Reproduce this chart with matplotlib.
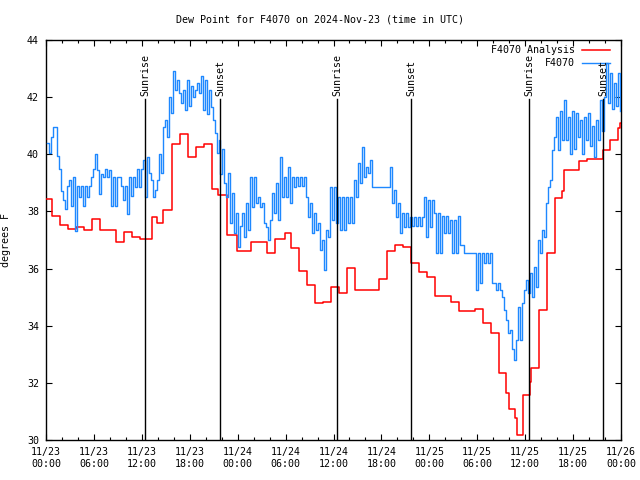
"""
Dew point for F4070, analysis vs. observations, 2024-Nov-23..26 (UTC).
"""

import numpy as np
import matplotlib
matplotlib.use('Agg')
import matplotlib.pyplot as plt

FONT = 'DejaVu Sans Mono'
FS = 7.2
ANALYSIS_COLOR = '#ff0000'
OBS_COLOR = '#1e88ff'

# analysis: step start (hours since 11/23 00:00 UTC) and dew point (F)
analysis_hours = [0, 0.75, 1.75, 2.75, 3.75, 4.75, 5.75, 6.75, 8.75, 9.75,
                  10.75, 11.75, 13.25, 13.9, 14.65, 15.75, 16.75, 17.75, 18.75, 19.75,
                  20.75, 21.55, 22.65, 23.9, 25.65, 27.65, 28.7, 29.9, 30.7, 31.7,
                  32.7, 33.7, 34.7, 35.7, 36.7, 37.7, 38.7, 41.7, 42.7, 43.7,
                  44.7, 45.7, 46.7, 47.7, 48.7, 50.7, 51.7, 53.7, 54.7, 55.7,
                  56.7, 57.6, 58.0, 58.7, 59.0, 59.7, 60.6, 60.7, 61.7, 62.7,
                  63.7, 64.6, 64.85, 66.7, 67.7, 69.75, 70.6, 71.6, 71.85, 72]
analysis_dewpt = [38.42, 37.84, 37.51, 37.37, 37.44, 37.35, 37.72, 37.35, 36.93, 37.28,
                  37.12, 37.02, 37.82, 37.58, 38.05, 40.36, 40.71, 39.89, 40.24, 40.36,
                  38.8, 38.56, 37.16, 36.6, 36.93, 36.53, 37.05, 37.26, 36.72, 35.93,
                  35.44, 34.78, 34.82, 35.37, 35.16, 36.02, 35.25, 35.65, 36.63, 36.81,
                  36.75, 36.2, 35.88, 35.7, 35.03, 34.83, 34.5, 34.57, 34.08, 33.73,
                  32.36, 31.64, 31.1, 30.77, 30.16, 31.57, 32.03, 32.52, 34.55, 36.53,
                  38.47, 38.7, 39.45, 39.75, 39.85, 40.15, 40.5, 40.92, 41.08, 41.08]

# station obs, read every quarter hour, one row per hour
obs_dewpt = [
    40.4, 40.05, 40.6, 40.95,   40.95, 39.95, 39.5, 38.7,   38.4, 38.1, 38.9, 39.1,
    38.2, 39.2, 37.3, 38.9,     38.5, 38.9, 38.2, 38.9,     38.5, 38.9, 39.2, 39.5,
    40.0, 39.45, 38.6, 39.3,    39.2, 39.5, 39.2, 39.45,    38.2, 39.2, 38.2, 39.2,
    39.2, 38.9, 38.4, 38.9,     37.9, 39.2, 38.55, 39.2,    38.85, 39.5, 38.85, 39.5,
    39.8, 38.5, 39.9, 39.35,    39.1, 38.5, 38.75, 39.1,    40.0, 39.35, 40.95, 41.2,
    40.6, 42.0, 41.45, 42.9,    42.25, 42.6, 42.15, 41.8,   42.25, 41.55, 42.6, 41.7,
    42.4, 42.0, 42.25, 42.5,    42.15, 42.75, 41.55, 42.6,  41.4, 42.25, 41.65, 41.2,
    40.75, 40.05, 40.5, 39.3,   40.2, 39.0, 38.5, 39.35,    37.6, 38.65, 37.25, 37.95,
    36.75, 37.5, 37.95, 37.1,   38.3, 37.35, 39.2, 38.15,   39.2, 38.3, 38.5, 38.15,
    38.3, 37.6, 37.45, 37.0,    37.7, 38.65, 37.95, 39.0,   37.7, 39.9, 38.5, 39.2,
    38.5, 39.55, 38.3, 39.2,    38.85, 39.2, 38.9, 39.2,    38.9, 39.2, 38.5, 37.8,
    38.3, 37.25, 37.95, 37.35,  37.6, 36.65, 37.0, 35.95,   37.35, 37.1, 38.85, 37.7,
    38.85, 37.6, 38.5, 37.35,   38.5, 37.35, 38.5, 37.6,    38.5, 37.6, 39.1, 38.5,
    39.7, 39.0, 40.25, 39.2,    39.55, 39.35, 39.8, 38.85,  38.85, 38.85, 38.85, 38.85,
    38.85, 38.85, 38.85, 38.85, 39.55, 38.3, 38.75, 37.8,   38.3, 37.25, 37.95, 37.45,
    37.95, 37.45, 37.8, 37.5,   37.8, 37.5, 37.8, 37.5,     37.8, 38.5, 37.1, 38.4,
    37.45, 38.4, 37.95, 36.55,  37.95, 36.55, 37.85, 37.25, 37.85, 37.25, 37.7, 36.55,
    37.7, 36.55, 37.85, 36.83,  36.83, 36.55, 36.55, 36.55, 36.55, 36.55, 36.55, 35.25,
    36.55, 35.5, 36.55, 36.2,   36.55, 36.2, 36.55, 35.5,   35.5, 35.25, 35.5, 35.25,
    35.0, 34.55, 34.2, 33.75,   33.85, 33.2, 32.8, 33.5,    34.65, 33.5, 34.8, 35.25,
    35.6, 35.15, 35.85, 35.0,   36.05, 35.35, 37.0, 36.55,  37.35, 37.1, 38.3, 38.85,
    39.1, 40.15, 40.6, 41.3,    40.15, 41.5, 40.5, 41.9,    40.5, 41.3, 40.0, 41.5,
    40.2, 41.45, 40.6, 41.2,    40.0, 41.3, 40.5, 41.45,    40.3, 41.0, 39.9, 41.2,
    40.5, 41.9, 40.8, 42.0,     43.2, 41.8, 42.85, 41.6,    42.5, 41.7, 42.85, 41.5,
]
obs_hours = np.arange(len(obs_dewpt)) * 0.25 + 0.1

sunrise_hours = [12.44, 36.48, 60.52]
sunset_hours = [21.83, 45.74, 69.79]

tick_hours = list(range(0, 73, 6))
tick_labels = ['11/23\n00:00', '11/23\n06:00', '11/23\n12:00', '11/23\n18:00',
               '11/24\n00:00', '11/24\n06:00', '11/24\n12:00', '11/24\n18:00',
               '11/25\n00:00', '11/25\n06:00', '11/25\n12:00', '11/25\n18:00',
               '11/26\n00:00']

plt.rcParams['font.family'] = [FONT, 'DejaVu Sans']
plt.rcParams['font.size'] = FS

fig = plt.figure(figsize=(6.4, 4.8), dpi=100)
ax = fig.add_axes([46 / 640, 1 - 440 / 480, 575 / 640, 400 / 480])

ax.step(analysis_hours, analysis_dewpt, where='post', color=ANALYSIS_COLOR,
        lw=1.1, label='F4070 Analysis', zorder=3)
ax.step(obs_hours, obs_dewpt, where='post', color=OBS_COLOR,
        lw=1.0, label='F4070', zorder=4)

line_top = 41.93
for h in sunrise_hours:
    ax.plot([h, h], [30, line_top], color='black', lw=1.0, zorder=5)
    ax.text(h, line_top + 0.12, 'Sunrise', rotation=90, ha='center', va='bottom',
            fontsize=FS, zorder=6)
for h in sunset_hours:
    ax.plot([h, h], [30, line_top], color='black', lw=1.0, zorder=5)
    ax.text(h, line_top + 0.12, 'Sunset', rotation=90, ha='center', va='bottom',
            fontsize=FS, zorder=6)

ax.set_xlim(0, 72)
ax.set_ylim(30, 44)
ax.set_xticks(tick_hours)
ax.set_xticklabels(tick_labels)
ax.set_xticks(range(0, 73, 2), minor=True)
ax.set_yticks(range(30, 45, 2))
ax.tick_params(direction='in', top=True, right=True, length=4.5, width=0.8,
               labelsize=FS, pad=5)
ax.tick_params(which='minor', direction='in', top=True, right=True, length=2.5, width=0.8)
for s in ax.spines.values():
    s.set_linewidth(1.0)

ax.set_ylabel('degrees F', fontsize=FS)
ax.yaxis.set_label_coords((11 - 46) / 575, 0.5)
fig.text(0.5, 1 - 20 / 480, 'Dew Point for F4070 on 2024-Nov-23 (time in UTC)',
         ha='center', va='center', fontsize=FS)

ax.legend(loc='upper right', bbox_to_anchor=(610 / 640, 1 - 45 / 480),
          bbox_transform=fig.transFigure, frameon=False, markerfirst=False,
          borderaxespad=0, borderpad=0, handlelength=2.8, handletextpad=0.7,
          labelspacing=0.3, fontsize=FS)

fig.savefig('out.png', dpi=100, facecolor='white')
